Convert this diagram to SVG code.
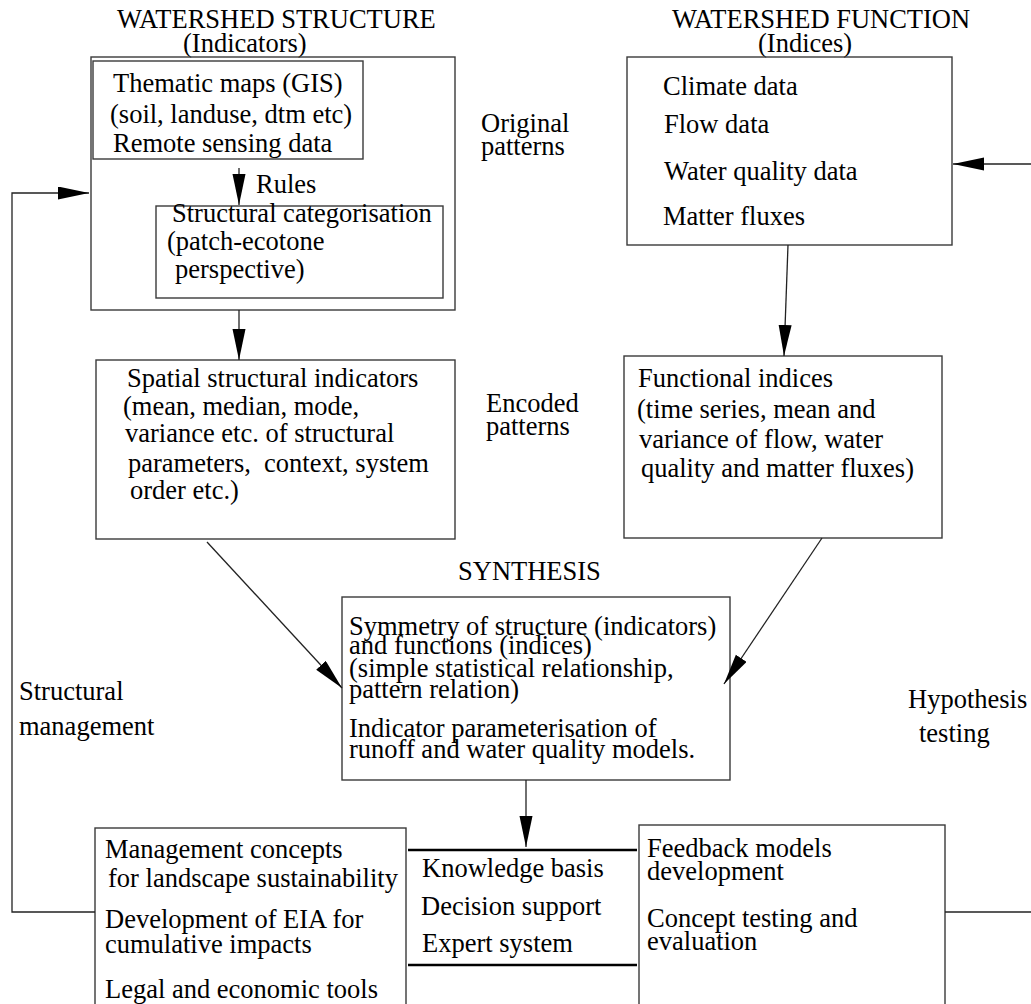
<svg xmlns="http://www.w3.org/2000/svg" width="1031" height="1004" viewBox="0 0 1031 1004">
<style>
text{font-family:'Liberation Serif','Times New Roman','DejaVu Serif',serif;font-size:26.5px;fill:#000}
.box{fill:none;stroke:#3a3a3a;stroke-width:1.4}
.con{fill:none;stroke:#222;stroke-width:1.3}
.thick{fill:none;stroke:#000;stroke-width:2.6}
</style>
<defs>
<marker id="ah" markerUnits="userSpaceOnUse" markerWidth="32" markerHeight="14" refX="31" refY="6.5" orient="auto">
<path d="M0,0 L31,6.5 L0,13 z" fill="#000"/>
</marker>
</defs>
<rect width="1031" height="1004" fill="#fff"/>
<g font-family="Liberation Serif, Times New Roman, serif">
<g id="title-structure">
<text x="117" y="28">WATERSHED STRUCTURE</text>
<text x="183" y="52">(Indicators)</text>
</g>
<g id="title-function">
<text x="672" y="28">WATERSHED FUNCTION</text>
<text x="758" y="52">(Indices)</text>
</g>
<g id="structure-outer">
<rect class="box" x="91" y="57" width="364" height="253"/>
</g>
<g id="thematic">
<rect class="box" x="93" y="61" width="270" height="98"/>
<text x="113" y="92">Thematic maps (GIS)</text>
<text x="110" y="123">(soil, landuse, dtm etc)</text>
<text x="113" y="152">Remote sensing data</text>
</g>
<g id="categorisation">
<rect class="box" x="156" y="206" width="287" height="92"/>
<text x="172" y="222">Structural categorisation</text>
<text x="167" y="250">(patch-ecotone</text>
<text x="175" y="278">perspective)</text>
</g>
<g id="rules-label"><text x="256" y="193">Rules</text></g>
<g id="original-label">
<text x="481" y="132">Original</text>
<text x="481" y="155">patterns</text>
</g>
<g id="function-box">
<rect class="box" x="627" y="57" width="325" height="188"/>
<text x="663" y="95">Climate data</text>
<text x="664" y="133">Flow data</text>
<text x="664" y="180">Water quality data</text>
<text x="663" y="225">Matter fluxes</text>
</g>
<g id="spatial">
<rect class="box" x="96" y="360" width="359" height="179"/>
<text x="127" y="387">Spatial structural indicators</text>
<text x="123" y="415">(mean, median, mode,</text>
<text x="125" y="442">variance etc. of structural</text>
<text x="128" y="472" xml:space="preserve">parameters,  context, system</text>
<text x="130" y="499">order etc.)</text>
</g>
<g id="encoded-label">
<text x="486" y="412">Encoded</text>
<text x="486" y="435">patterns</text>
</g>
<g id="functional">
<rect class="box" x="624" y="356" width="318" height="182"/>
<text x="638" y="387">Functional indices</text>
<text x="637" y="418">(time series, mean and</text>
<text x="639" y="448">variance of flow, water</text>
<text x="641" y="477">quality and matter fluxes)</text>
</g>
<g id="synthesis">
<text x="458" y="580">SYNTHESIS</text>
<rect class="box" x="342" y="597" width="388" height="183"/>
<text x="349" y="635">Symmetry of structure (indicators)</text>
<text x="349" y="654">and functions (indices)</text>
<text x="349" y="677">(simple statistical relationship,</text>
<text x="349" y="698">pattern relation)</text>
<text x="349" y="737">Indicator parameterisation of</text>
<text x="349" y="758">runoff and water quality models.</text>
</g>
<g id="structural-label">
<text x="19" y="700">Structural</text>
<text x="19" y="735">management</text>
</g>
<g id="hypothesis-label">
<text x="908" y="708">Hypothesis</text>
<text x="919" y="742">testing</text>
</g>
<g id="management">
<rect class="box" x="95" y="828" width="311" height="190"/>
<text x="105" y="858">Management concepts</text>
<text x="108" y="887">for landscape sustainability</text>
<text x="105" y="928">Development of EIA for</text>
<text x="105" y="953">cumulative impacts</text>
<text x="105" y="998">Legal and economic tools</text>
</g>
<g id="knowledge">
<line class="thick" x1="408" y1="850" x2="637" y2="850"/>
<line class="thick" x1="408" y1="965" x2="637" y2="965"/>
<text x="422" y="877">Knowledge basis</text>
<text x="421" y="915">Decision support</text>
<text x="422" y="952">Expert system</text>
</g>
<g id="feedback">
<rect class="box" x="639" y="825" width="306" height="193"/>
<text x="647" y="857">Feedback models</text>
<text x="647" y="880">development</text>
<text x="647" y="927">Concept testing and</text>
<text x="647" y="950">evaluation</text>
</g>
</g>
<g id="connectors">
<line class="con" x1="239" y1="168" x2="239" y2="205" marker-end="url(#ah)"/>
<line class="con" x1="239" y1="310" x2="239" y2="360" marker-end="url(#ah)"/>
<line class="con" x1="788" y1="245" x2="784" y2="356" marker-end="url(#ah)"/>
<line class="con" x1="207" y1="542" x2="342" y2="688" marker-end="url(#ah)"/>
<line class="con" x1="822" y1="538" x2="724" y2="684" marker-end="url(#ah)"/>
<line class="con" x1="526" y1="780" x2="526" y2="847" marker-end="url(#ah)"/>
<path class="con" d="M95,912 H12 V193 H89" marker-end="url(#ah)"/>
<line class="con" x1="945" y1="912" x2="1031" y2="912"/>
<line class="con" x1="1031" y1="164" x2="953" y2="164" marker-end="url(#ah)"/>
</g>
</svg>
